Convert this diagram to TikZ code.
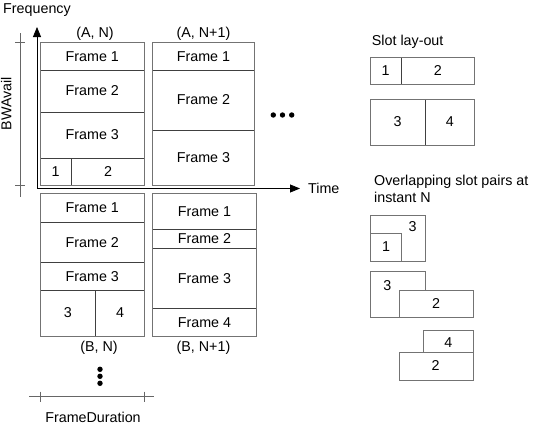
\documentclass[tikz,border=0pt]{standalone}
\usepackage{fontspec}
\setmainfont{Liberation Sans}
\usetikzlibrary{arrows.meta}

\tikzset{
  cell/.style={draw=black!75,line width=0.8pt},
  outer/.style={draw=black!55,line width=0.8pt},
  txt/.style={font=\fontsize{14.3}{17}\selectfont,inner sep=0pt},
  axis/.style={line width=0.8pt,-{Triangle[length=10pt,width=8pt]}},
  dim/.style={draw=black!60,line width=0.8pt}
}

\begin{document}
\begin{tikzpicture}[x=1pt,y=-1pt]
\useasboundingbox (0,0) rectangle (541,429);

% axes
\coordinate (origin) at (37,188.5);
\coordinate (ftop) at (37,27);
\coordinate (tend) at (300,188.5);
\draw[axis] (origin) -- (ftop);
\draw[axis] (origin) -- (tend);
\node[txt,anchor=base west] (freq) at (3,13.3) {Frequency};
\node[txt,anchor=base west] (time) at (308,193.8) {Time};

% BWAvail
\coordinate (bwtop) at (20,33);
\coordinate (bwbot) at (20,197);
\draw[dim] (bwtop) -- (bwbot);
\draw[dim] (15,42.7) -- (25,42.7);
\draw[dim] (15,185.3) -- (25,185.3);
\node[txt,rotate=90,anchor=base] (bwavail) at (11.5,103.5) {BWAvail};

% (A, N)
\draw[cell] (40,42.7) rectangle (144.7,70);
\draw[cell] (40,70) rectangle (144.7,112);
\draw[cell] (40,112) rectangle (144.7,158);
\draw[cell] (40,158) rectangle (71.3,185.3);
\draw[cell] (71.3,158) rectangle (144.7,185.3);
\draw[outer] (40,42.7) rectangle (144.7,185.3);
\node[txt] (an1) at (92.3,56.3) {Frame 1};
\node[txt] (an2) at (92.3,91) {Frame 2};
\node[txt] (an3) at (92.3,135) {Frame 3};
\node[txt] (ans1) at (55.7,171.7) {1};
\node[txt] (ans2) at (108,171.7) {2};
\node[txt,anchor=base] (anlbl) at (95,37.3) {(A, N)};

% (A, N+1)
\draw[cell] (152.3,42.7) rectangle (254.7,70);
\draw[cell] (152.3,70) rectangle (254.7,130.3);
\draw[cell] (152.3,130.3) rectangle (254.7,185.3);
\draw[outer] (152.3,42.7) rectangle (254.7,185.3);
\node[txt] (am1) at (203.5,56.3) {Frame 1};
\node[txt] (am2) at (203.5,100) {Frame 2};
\node[txt] (am3) at (203.5,157.8) {Frame 3};
\node[txt,anchor=base] (amlbl) at (203.5,37.3) {(A, N+1)};

% more instants
\fill (273.3,115) circle[radius=2.7];
\fill (282.5,115) circle[radius=2.7];
\fill (291.7,115) circle[radius=2.7];

% (B, N)
\draw[cell] (40,193.3) rectangle (144.7,222.3);
\draw[cell] (40,222.3) rectangle (144.7,262.7);
\draw[cell] (40,262.7) rectangle (144.7,290);
\draw[cell] (40,290) rectangle (95.7,336);
\draw[cell] (95.7,290) rectangle (144.7,336);
\draw[outer] (40,193.3) rectangle (144.7,336);
\node[txt] (bn1) at (92.3,207.8) {Frame 1};
\node[txt] (bn2) at (92.3,242.5) {Frame 2};
\node[txt] (bn3) at (92.3,276.3) {Frame 3};
\node[txt] (bns3) at (67.8,312.7) {3};
\node[txt] (bns4) at (120.2,312.7) {4};
\node[txt,anchor=base] (bnlbl) at (99,351.7) {(B, N)};

% (B, N+1)
\draw[cell] (152.3,193.3) rectangle (256.7,229.7);
\draw[cell] (152.3,229.7) rectangle (256.7,248.3);
\draw[cell] (152.3,248.3) rectangle (256.7,308.3);
\draw[cell] (152.3,308.3) rectangle (256.7,336);
\draw[outer] (152.3,193.3) rectangle (256.7,336);
\node[txt] (bm1) at (204.5,211.5) {Frame 1};
\node[txt] (bm2) at (204.5,239) {Frame 2};
\node[txt] (bm3) at (204.5,278.3) {Frame 3};
\node[txt] (bm4) at (204.5,322.2) {Frame 4};
\node[txt,anchor=base] (bmlbl) at (203.5,351.7) {(B, N+1)};

% more bands
\fill (100,369.3) circle[radius=2.7];
\fill (100,376.3) circle[radius=2.7];
\fill (100,383.3) circle[radius=2.7];

% FrameDuration
\coordinate (fdl) at (29,396.7);
\coordinate (fdr) at (154,396.7);
\draw[dim] (fdl) -- (fdr);
\draw[dim] (40,391.7) -- (40,401.7);
\draw[dim] (144.7,391.7) -- (144.7,401.7);
\node[txt,anchor=base] (fdur) at (93,422.3) {FrameDuration};

% slot lay-out
\node[txt,anchor=base west] (layout) at (371.7,45) {Slot lay-out};
\draw[cell] (370,57.3) rectangle (401.3,84.3);
\draw[cell] (401.3,57.3) rectangle (474.3,84.3);
\draw[outer] (370,57.3) rectangle (474.3,84.3);
\node[txt] (ls1) at (385.7,70.8) {1};
\node[txt] (ls2) at (437.8,70.8) {2};
\draw[cell] (370,99.3) rectangle (425.3,145.3);
\draw[cell] (425.3,99.3) rectangle (474.3,145.3);
\draw[outer] (370,99.3) rectangle (474.3,145.3);
\node[txt] (ls3) at (397.7,121.7) {3};
\node[txt] (ls4) at (449.8,121.7) {4};

% overlapping pairs
\node[txt,anchor=base west] (ovl) at (374,185.7) {Overlapping slot pairs at};
\node[txt,anchor=base west] (inst) at (374,202.3) {instant N};

\draw[outer,fill=white] (370,215) rectangle (425.3,261);
\draw[outer,fill=white] (370,233.3) rectangle (401.3,261);
\node[txt] (p13) at (412.7,226.7) {3};
\node[txt] (p11) at (386,246.7) {1};

\draw[outer,fill=white] (370,271.7) rectangle (425.3,317.3);
\draw[outer,fill=white] (399.3,290) rectangle (473,317.3);
\node[txt] (p23) at (387.3,285.7) {3};
\node[txt] (p22) at (436,303.3) {2};

\draw[outer,fill=white] (423.3,330.3) rectangle (473,352.7);
\draw[outer,fill=white] (399.3,352.7) rectangle (473,380);
\node[txt] (p34) at (448.3,342.3) {4};
\node[txt] (p32) at (435.7,365.7) {2};

\end{tikzpicture}
\end{document}
